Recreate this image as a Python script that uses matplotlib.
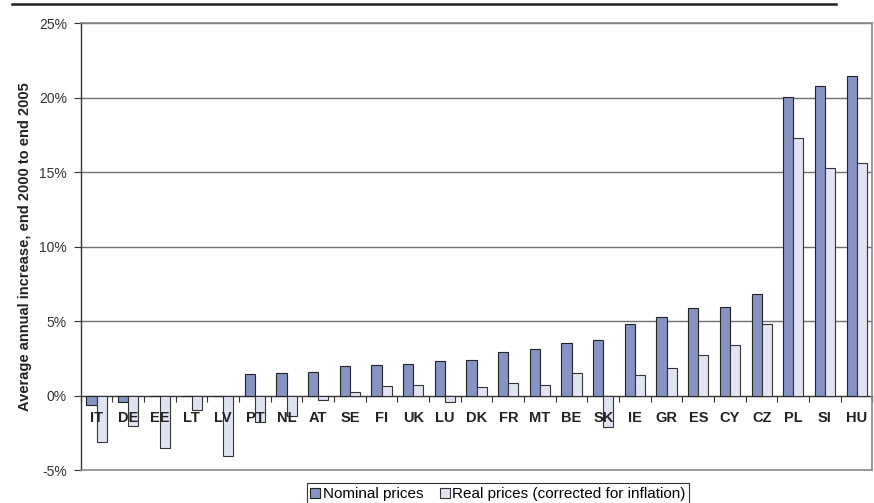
import matplotlib
matplotlib.use("Agg")
import matplotlib.pyplot as plt
import numpy as np
from matplotlib.lines import Line2D

plt.rcParams['font.family'] = ['Liberation Sans', 'DejaVu Sans']

countries = ["IT", "DE", "EE", "LT", "LV", "PT", "NL", "AT", "SE", "FI", "UK", "LU",
             "DK", "FR", "MT", "BE", "SK", "IE", "GR", "ES", "CY", "CZ", "PL", "SI", "HU"]
nominal = [-0.64, -0.46, 0.0, 0.0, 0.0, 1.43, 1.5, 1.56, 1.96, 2.05, 2.14, 2.3,
           2.4, 2.9, 3.15, 3.5, 3.72, 4.78, 5.29, 5.87, 5.92, 6.79, 20.05, 20.82, 21.46]
real = [-3.1, -2.05, -3.55, -0.95, -4.05, -1.8, -1.35, -0.3, 0.22, 0.67, 0.74, -0.45,
        0.56, 0.87, 0.71, 1.54, -2.1, 1.38, 1.82, 2.7, 3.39, 4.78, 17.33, 15.29, 15.6]
yticks = [-5, 0, 5, 10, 15, 20, 25]
series_names = ["Nominal prices", "Real prices (corrected for inflation)"]

c_nom = "#8593C5"
c_real = "#E0E4F2"

fig = plt.figure(figsize=(8.74, 5.03), dpi=100)
ax = fig.add_axes([80.7 / 874, 1 - 470 / 503, (872.5 - 80.7) / 874, (470 - 23.3) / 503])

n = len(countries)
x = np.arange(n)
w = 0.32
ax.bar(x - w / 2, nominal, w, color=c_nom, edgecolor="#222222", linewidth=0.8, zorder=3)
ax.bar(x + w / 2, real, w, color=c_real, edgecolor="#333333", linewidth=0.8, zorder=3)

ax.set_xlim(-0.5, n - 0.5)
ax.set_ylim(-5, 25)
ax.set_yticks(yticks)
ax.set_yticklabels([f"{v}%" for v in yticks], fontsize=10, color="#333333")
ax.tick_params(axis="y", length=5, width=0.8, color="#333333", pad=5)
ax.tick_params(axis="x", bottom=False, labelbottom=False)
for v in yticks[2:]:
    ax.axhline(v, color="#6f6f6f", linewidth=1.0, zorder=1)

for s in ["top", "right", "bottom"]:
    ax.spines[s].set_color("#888888")
    ax.spines[s].set_linewidth(1.2)
ax.spines["left"].set_color("#333333")
ax.spines["left"].set_linewidth(1.0)

# zero axis with category-boundary ticks
sec = ax.secondary_xaxis(5 / 30)
sec.set_xticks(np.arange(n + 1) - 0.5)
sec.set_xticklabels([])
sec.tick_params(axis="x", length=4, width=0.8, color="#333333")
sec.spines["bottom"].set_color("#333333")
sec.spines["bottom"].set_linewidth(1.0)

for i, c in enumerate(countries):
    ax.text(i, -1.5, c, ha="center", va="center", fontsize=10.5, fontweight="bold",
            color="#222222", zorder=5)

fig.text(25.5 / 874, 1 - 247 / 503, "Average annual increase, end 2000 to end 2005", rotation=90,
         ha="center", va="center", fontsize=10.5, fontweight="bold", color="#222222")

# top decorative rule
fig.add_artist(Line2D([12 / 874, 836 / 874], [1 - 3.5 / 503, 1 - 3.5 / 503],
                      color="#222222", linewidth=1.8, transform=fig.transFigure))

handles = [plt.Rectangle((0, 0), 1, 1, facecolor=c_nom, edgecolor="#222222", linewidth=0.8),
           plt.Rectangle((0, 0), 1, 1, facecolor=c_real, edgecolor="#333333", linewidth=0.8)]
leg = fig.legend(handles, series_names, loc="center", bbox_to_anchor=(498 / 874, 1 - 494 / 503),
                 ncol=2, fontsize=11, handlelength=0.65, handleheight=0.65, handletextpad=0.15,
                 columnspacing=1.1, fancybox=False, edgecolor="#333333", borderpad=0.25,
                 borderaxespad=0, framealpha=1)
leg.get_frame().set_linewidth(0.8)

fig.savefig("out.png", dpi=100)
